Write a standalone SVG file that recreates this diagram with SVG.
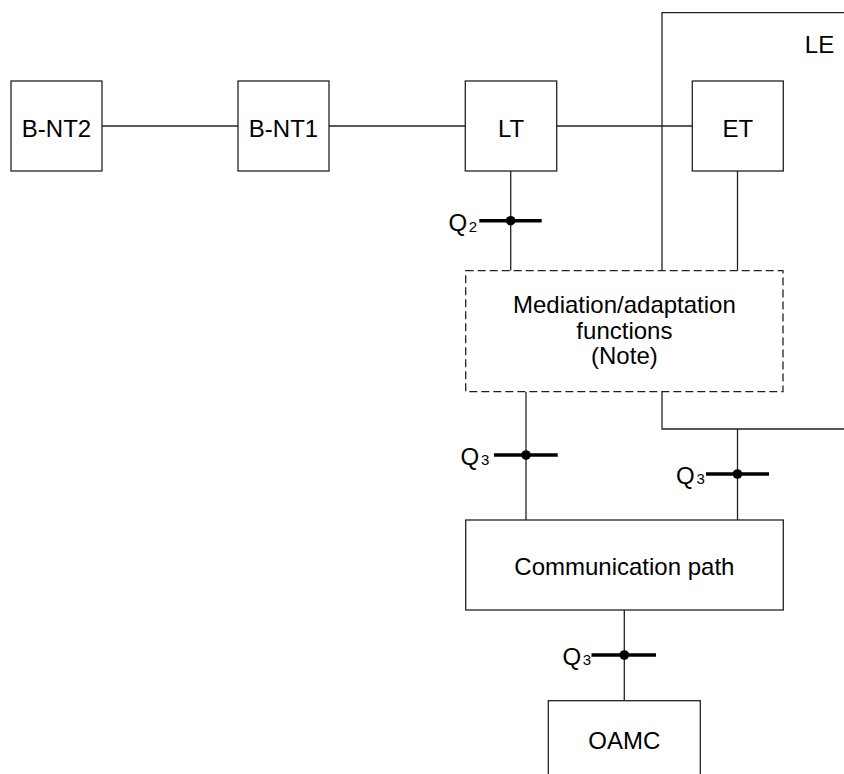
<svg xmlns="http://www.w3.org/2000/svg" width="844" height="774" viewBox="0 0 844 774">
<style>
  .box { fill: #fff; stroke: #222; stroke-width: 1.3; }
  .dash { fill: #fff; stroke: #222; stroke-width: 1.3; stroke-dasharray: 8 4; }
  .ln { fill: none; stroke: #222; stroke-width: 1.3; }
  .bar { stroke: #000; stroke-width: 3.6; }
  .dot { fill: #000; }
  .t { font-family: "Liberation Sans", Arial, sans-serif; font-size: 24px; fill: #000; text-anchor: middle; }
  .q { font-family: "Liberation Sans", Arial, sans-serif; font-size: 24px; fill: #000; }
  .s { font-size: 15px; }
</style>
<rect width="844" height="774" fill="#fff"/>
<g id="connectors">
  <path class="ln" d="M102,126 H238"/>
  <path class="ln" d="M329,126 H465"/>
  <path class="ln" d="M557,126 H692"/>
  <path class="ln" d="M510.7,171 V270.7"/>
  <path class="ln" d="M737.5,171 V270.7"/>
  <path class="ln" d="M526,391.7 V520"/>
  <path class="ln" d="M737.5,429 V520"/>
  <path class="ln" d="M624.3,610 V700.7"/>
</g>
<g id="LE">
  <path class="ln" d="M844,12.7 H662 V270.7"/>
  <path class="ln" d="M662,391.7 V429 H844"/>
  <text class="t" x="819.5" y="53">LE</text>
</g>
<g id="B-NT2">
  <rect class="box" x="11" y="81" width="91" height="90"/>
  <text class="t" x="56.5" y="137">B-NT2</text>
</g>
<g id="B-NT1">
  <rect class="box" x="238" y="81" width="91" height="90"/>
  <text class="t" x="283.5" y="137">B-NT1</text>
</g>
<g id="LT">
  <rect class="box" x="465.3" y="81" width="91.4" height="90"/>
  <text class="t" x="511" y="137">LT</text>
</g>
<g id="ET">
  <rect class="box" x="692.3" y="81" width="91" height="90"/>
  <text class="t" x="737.8" y="137">ET</text>
</g>
<g id="mediation">
  <rect class="dash" x="465.7" y="270.7" width="317.3" height="121"/>
  <text class="t" x="624.4" y="313">Mediation/adaptation</text>
  <text class="t" x="624.4" y="338.5">functions</text>
  <text class="t" x="624.4" y="363.5">(Note)</text>
</g>
<g id="communication-path">
  <rect class="box" x="465.7" y="520" width="317.6" height="90"/>
  <text class="t" x="624.4" y="575">Communication path</text>
</g>
<g id="OAMC">
  <rect class="box" x="548.3" y="700.7" width="152" height="90"/>
  <text class="t" x="624.3" y="749">OAMC</text>
</g>
<g id="Q2">
  <line class="bar" x1="479.3" y1="220.7" x2="541.7" y2="220.7"/>
  <circle class="dot" cx="510.7" cy="220.7" r="4.8"/>
  <text class="q" x="448.5" y="230.5">Q<tspan class="s" dx="1.5" y="231.5">2</tspan></text>
</g>
<g id="Q3-left">
  <line class="bar" x1="494" y1="455" x2="557.7" y2="455"/>
  <circle class="dot" cx="526" cy="455" r="4.8"/>
  <text class="q" x="460.5" y="464.5">Q<tspan class="s" dx="1.8">3</tspan></text>
</g>
<g id="Q3-right">
  <line class="bar" x1="706" y1="474" x2="769" y2="474"/>
  <circle class="dot" cx="737.5" cy="474" r="4.8"/>
  <text class="q" x="676" y="483.5">Q<tspan class="s" dx="1.8">3</tspan></text>
</g>
<g id="Q3-bottom">
  <line class="bar" x1="591.5" y1="655" x2="656" y2="655"/>
  <circle class="dot" cx="624.3" cy="655" r="4.8"/>
  <text class="q" x="562.5" y="664.5">Q<tspan class="s" dx="1.5">3</tspan></text>
</g>
</svg>
